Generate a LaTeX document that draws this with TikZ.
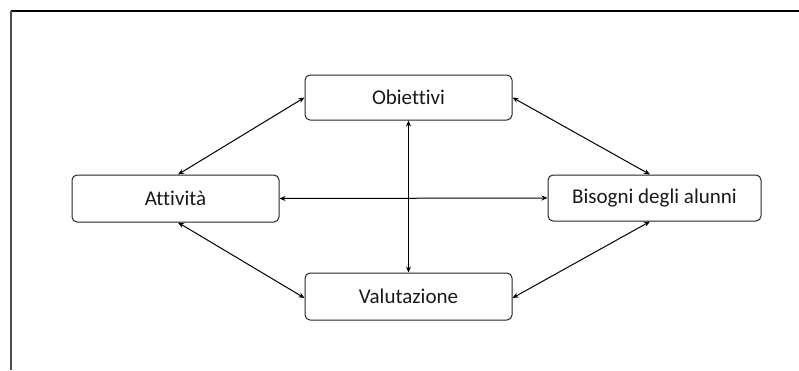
\documentclass[tikz,border=0pt]{standalone}
\usepackage{fontspec}
\setmainfont{Carlito}[Ligatures=NoCommon]
\usetikzlibrary{arrows.meta}
\begin{document}
\begin{tikzpicture}[x=1pt,y=-1pt,
  box/.style={draw=black!85,line width=1pt,rounded corners=5pt,fill=white,
    inner sep=0pt,text=black!90,font=\fontsize{21}{25}\selectfont},
  link/.style={line width=1pt,{Stealth[length=6pt,width=5pt]}-{Stealth[length=6pt,width=5pt]}}]
  \useasboundingbox (0,0) rectangle (799,370);
  % frame edges
  \draw[line width=1.4pt] (10.5,11) -- (799,11);
  \draw[line width=2pt,black!70] (11,10.5) -- (11,370);
  % boxes
  \node[box,minimum width=207pt,minimum height=45pt] (obj) at (408.5,97.5) {Obiettivi};
  \node[box,minimum width=207pt,minimum height=47pt] (att) at (175.5,198.5) {Attività};
  \node[box,minimum width=213pt,minimum height=46pt] (bis) at (654.5,198) {Bisogni degli alunni};
  \node[box,minimum width=207pt,minimum height=47pt] (val) at (408.5,296.5) {Valutazione};
  % connectors
  \coordinate (attT) at ([xshift=2.5pt]att.north);
  \coordinate (attB) at ([xshift=2.5pt]att.south);
  \coordinate (bisT) at ([xshift=-4.5pt]bis.north);
  \coordinate (bisB) at ([xshift=-4.5pt]bis.south);
  \draw[link] (obj.west) -- (attT);
  \draw[link] (obj.east) -- (bisT);
  \draw[link] (attB) -- ([yshift=-1.5pt]val.west);
  \draw[link] (bisB) -- ([yshift=-1.5pt]val.east);
  \draw[link] (att.east) -- (bis.west);
  \draw[link] (obj.south) -- (val.north);
\end{tikzpicture}
\end{document}
